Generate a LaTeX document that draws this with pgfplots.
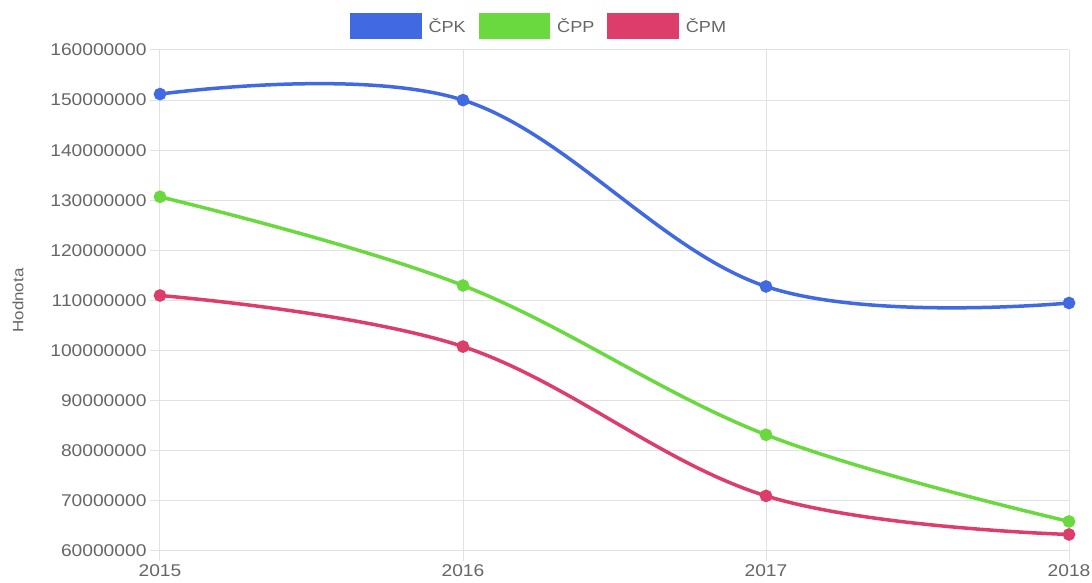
\documentclass[border=0pt]{standalone}
\usepackage{fontspec}
\setmainfont{Liberation Sans}
\newfontfamily\widefont[FakeStretch=1.13]{Liberation Sans}
\usepackage{pgfplots}
\pgfplotsset{compat=1.18}

\definecolor{cpk}{HTML}{4169E1}
\definecolor{cpp}{HTML}{6AD940}
\definecolor{cpm}{HTML}{DC3D6A}
\definecolor{txt}{HTML}{666666}
\definecolor{gridc}{HTML}{E2E2E2}

\begin{document}
\begin{tikzpicture}
\useasboundingbox (-160pt,-32pt) rectangle (932pt,551pt);
\begin{axis}[
    scale only axis,
    width=909pt, height=501pt,
    xmin=2015, xmax=2018,
    ymin=60000000, ymax=160000000,
    xtick={2015,2016,2017,2018},
    xticklabels={2015,2016,2017,2018},
    ytick={60000000,70000000,80000000,90000000,100000000,110000000,120000000,130000000,140000000,150000000,160000000},
    yticklabels={60000000,70000000,80000000,90000000,100000000,110000000,120000000,130000000,140000000,150000000,160000000},
    scaled y ticks=false,
    axis line style={draw=gridc, line width=1pt},
    axis x line*=bottom, axis y line*=left,
    grid=major,
    major grid style={draw=gridc, line width=1pt},
    tick style={draw=gridc, line width=1pt},
    tick align=outside,
    major tick length=10pt,
    ticklabel style={font=\widefont\fontsize{17}{20}\selectfont, text=txt},
    /pgf/number format/assume math mode=true,
    ylabel={Hodnota},
    every axis y label/.style={at={(axis description cs:0,0.5)}, xshift=-142pt,
        rotate=90, anchor=center, font=\widefont\fontsize{15}{18}\selectfont, text=txt},
    legend columns=3,
    legend style={draw=none, fill=none, at={(0.417,1.048)}, anchor=center,
        font=\widefont\fontsize{16}{19}\selectfont, text=txt,
        /tikz/every odd column/.append style={column sep=5pt},
        /tikz/every even column/.append style={column sep=11pt}},
    legend image code/.code={\fill[#1] (0pt,-11pt) rectangle (68pt,11pt);},
    every axis plot/.append style={line width=3.5pt, smooth, tension=0.62, mark=*, mark size=4.5pt},
]
\addplot[color=cpk, mark options={fill=cpk}] coordinates {
    (2015,151200000) (2016,150000000) (2017,112800000) (2018,109500000)
};
\addlegendentry{ČPK}
\addplot[color=cpp, mark options={fill=cpp}] coordinates {
    (2015,130700000) (2016,113000000) (2017,83200000) (2018,65900000)
};
\addlegendentry{ČPP}
\addplot[color=cpm, mark options={fill=cpm}] coordinates {
    (2015,111000000) (2016,100800000) (2017,71000000) (2018,63300000)
};
\addlegendentry{ČPM}
\end{axis}
\end{tikzpicture}
\end{document}
